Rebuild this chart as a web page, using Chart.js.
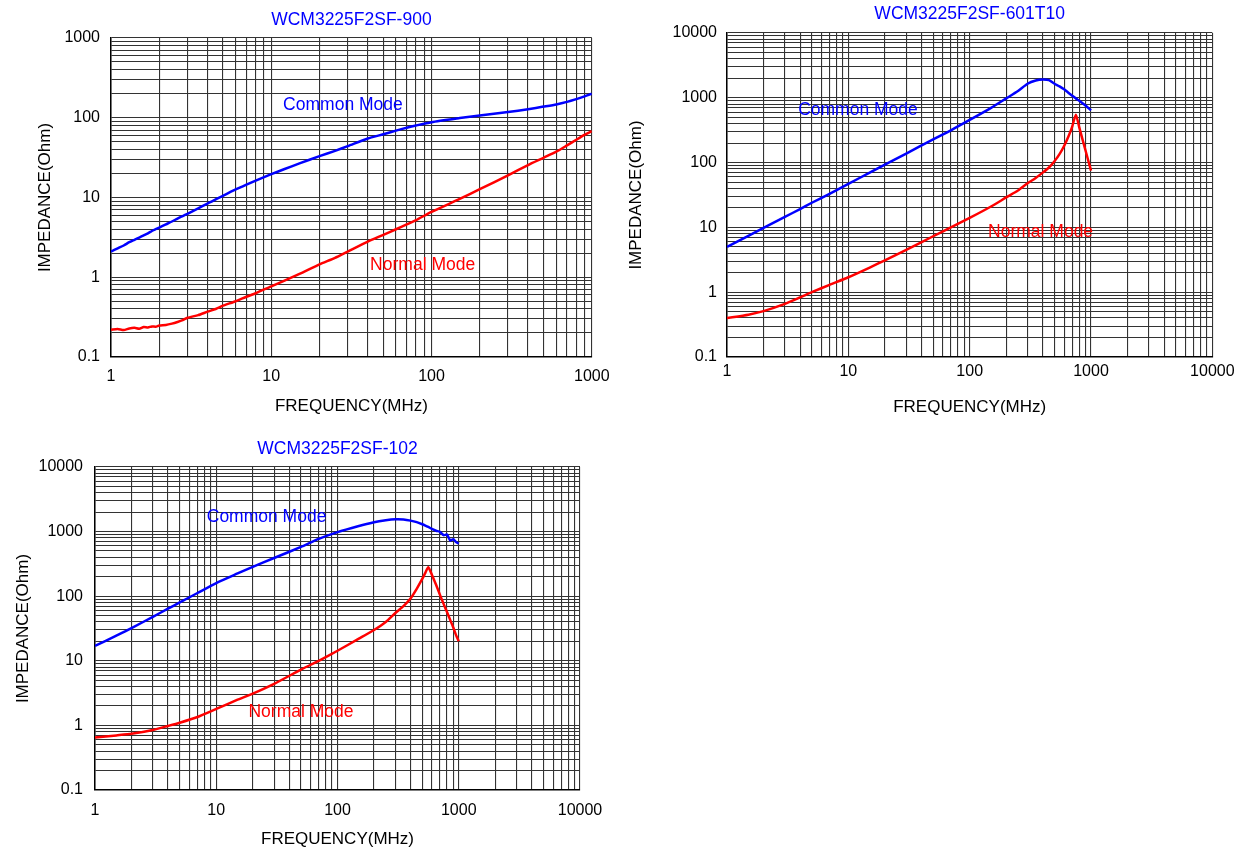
<!DOCTYPE html>
<html lang="en">

<head>
  <meta charset="UTF-8" />
  <title>WCM3225F2SF impedance curves</title>
  <script src="https://cdn.jsdelivr.net/npm/chart.js@4.4.1/dist/chart.umd.min.js"></script>
  <style>
    body { margin: 0; background: #fff; }
    .painel { position: absolute; width: 620px; height: 425px; }
  </style>
</head>

<body>
  <div class="painel" style="left:0;top:0"><canvas id="g900" width="620" height="425"></canvas></div>
  <div class="painel" style="left:620px;top:0"><canvas id="g601" width="620" height="425"></canvas></div>
  <div class="painel" style="left:0;top:425px"><canvas id="g102" width="620" height="425"></canvas></div>
</body>

</html>

<script>
  // WCM3225F2SF-900
  const freq900 = [1, 1.1, 1.2, 1.3, 1.4, 1.5, 1.6, 1.7, 1.8, 1.9, 2, 2.2, 2.4, 2.6, 2.8, 3, 3.5, 4, 4.5, 5, 6, 7, 8, 10, 12, 15, 20, 25, 30, 40, 50, 60, 70, 80, 100, 150, 200, 300, 400, 500, 600, 700, 800, 900, 1000];
  const common900 = [2.1, 2.3, 2.5, 2.75, 2.95, 3.15, 3.35, 3.55, 3.8, 4.0, 4.2, 4.6, 5.0, 5.45, 5.85, 6.25, 7.3, 8.4, 9.5, 10.5, 12.6, 14.5, 16.3, 19.6, 22.6, 26.8, 33, 38.5, 44, 55, 62, 69, 75, 80, 88, 99, 107, 118, 128, 138, 147, 158, 171, 185, 200];
  const normal900 = [0.22, 0.225, 0.218, 0.228, 0.232, 0.226, 0.238, 0.235, 0.242, 0.24, 0.248, 0.252, 0.262, 0.275, 0.29, 0.31, 0.335, 0.37, 0.4, 0.44, 0.5, 0.57, 0.63, 0.77, 0.9, 1.1, 1.45, 1.75, 2.1, 2.8, 3.4, 4.0, 4.6, 5.2, 6.6, 9.6, 12.7, 19, 25.5, 31.5, 37.5, 45, 53, 61, 68];
  const xLabels900 = [1, 10, 100, 1000];
  const yLabels900 = [0.1, 1, 10, 100, 1000];

  // WCM3225F2SF-601T10
  const freq601 = [1, 1.5, 2, 3, 4, 5, 7, 10, 15, 20, 30, 50, 70, 100, 150, 200, 250, 300, 350, 400, 450, 500, 550, 600, 650, 700, 750, 800, 900, 1000];
  const common601 = [5.0, 7.4, 9.8, 14.5, 19.2, 24, 33, 47, 70, 93, 138, 228, 315, 455, 700, 980, 1270, 1650, 1850, 1920, 1870, 1650, 1500, 1350, 1200, 1080, 980, 900, 760, 640];
  const normal601 = [0.4, 0.45, 0.51, 0.66, 0.83, 1.0, 1.3, 1.7, 2.4, 3.1, 4.5, 7.3, 10, 14, 21, 29, 37, 48, 58, 70, 84, 105, 135, 180, 250, 360, 550, 350, 155, 75];
  const xLabels601 = [1, 10, 100, 1000, 10000];
  const yLabels601 = [0.1, 1, 10, 100, 1000, 10000];

  // WCM3225F2SF-102
  const freq102 = [1, 1.5, 2, 3, 4, 5, 7, 10, 15, 20, 30, 50, 70, 100, 150, 200, 250, 300, 350, 400, 450, 500, 530, 560, 600, 650, 700, 750, 800, 850, 900, 950, 1000];
  const common102 = [17, 24.5, 32, 48, 64, 80, 112, 160, 225, 285, 390, 580, 770, 980, 1220, 1400, 1500, 1550, 1540, 1480, 1400, 1300, 1240, 1180, 1100, 1030, 990, 880, 900, 730, 760, 690, 650];
  const normal102 = [0.65, 0.7, 0.74, 0.85, 0.98, 1.1, 1.35, 1.8, 2.5, 3.1, 4.4, 7.3, 10, 14.3, 22, 30, 40, 55, 70, 92, 130, 185, 230, 280, 215, 150, 105, 76, 57, 43, 33, 25, 20];
  const xLabels102 = [1, 10, 100, 1000, 10000];
  const yLabels102 = [0.1, 1, 10, 100, 1000, 10000];

  const FONTE = '"Liberation Sans", Arial, sans-serif';

  // grade 1..9 por decada
  function gradeLog(min, max) {
    const t = [];
    for (let d = min; d < max * 0.99; d *= 10) {
      for (let m = 1; m < 10; m++) t.push(+(d * m).toPrecision(3));
    }
    t.push(max);
    return t;
  }

  function pontos(xs, ys) {
    return xs.map((x, i) => ({ x: x, y: ys[i] }));
  }

  // textos "Common Mode" / "Normal Mode" presos aos eixos
  const rotulosModo = {
    id: 'rotulosModo',
    afterDatasetsDraw(chart, args, opts) {
      const { ctx, scales } = chart;
      opts.itens.forEach(it => {
        ctx.save();
        ctx.font = '17.5px ' + FONTE;
        ctx.fillStyle = it.cor;
        ctx.textAlign = 'center';
        ctx.textBaseline = 'middle';
        ctx.fillText(it.texto, scales.x.getPixelForValue(it.x), scales.y.getPixelForValue(it.y));
        ctx.restore();
      });
    }
  };

  function criarGrafico(id, c) {
    const eixo = (labels) => ({
      type: 'logarithmic',
      min: labels[0],
      max: labels[labels.length - 1],
      afterBuildTicks: (ax) => {
        ax.ticks = gradeLog(labels[0], labels[labels.length - 1]).map(v => ({ value: v }));
      },
      grid: { color: '#333', lineWidth: 1.1, drawTicks: false },
      border: { color: '#000', width: 1.5 },
      ticks: {
        autoSkip: false,
        maxRotation: 0,
        color: '#000',
        font: { family: FONTE, size: 16 },
        callback: (v) => labels.includes(v) ? String(v) : ''
      }
    });

    const x = eixo(c.xLabels);
    x.ticks.padding = c.xTickPad;
    x.title = { display: true, text: 'FREQUENCY(MHz)', color: '#000', font: { family: FONTE, size: 17 }, padding: 0 };
    x.afterFit = (ax) => { ax.height = c.xHeight; };

    const y = eixo(c.yLabels);
    y.ticks.padding = c.yTickPad;
    y.title = { display: true, text: 'IMPEDANCE(Ohm)', color: '#000', font: { family: FONTE, size: 17 }, padding: { top: c.yTitlePad, bottom: 0 } };
    y.afterFit = (ax) => { ax.width = c.yWidth; };

    new Chart(document.getElementById(id), {
      type: 'line',
      data: {
        datasets: [
          { label: 'Common Mode', data: pontos(c.freq, c.common), borderColor: '#0000ff', borderWidth: 2.5, pointRadius: 0, tension: 0.2 },
          { label: 'Normal Mode', data: pontos(c.freq, c.normal), borderColor: '#ff0000', borderWidth: 2.5, pointRadius: 0, tension: 0.2 }
        ]
      },
      options: {
        responsive: false,
        animation: false,
        layout: { padding: { left: 0, right: c.padRight, top: 0, bottom: c.padBottom } },
        plugins: {
          legend: { display: false },
          tooltip: { enabled: false },
          title: {
            display: true,
            fullSize: false,
            text: c.titulo,
            color: '#0000ff',
            font: { family: FONTE, size: 17.5, weight: 'normal' },
            padding: { top: c.titleTop, bottom: c.titleBottom }
          },
          rotulosModo: { itens: c.rotulos }
        },
        scales: { x: x, y: y }
      },
      plugins: [rotulosModo]
    });
  }

  criarGrafico('g900', {
    titulo: 'WCM3225F2SF-900',
    freq: freq900, common: common900, normal: normal900,
    xLabels: xLabels900, yLabels: yLabels900,
    titleTop: 9.2, titleBottom: 7.8,
    yWidth: 111, padRight: 28, padBottom: 8.8, xHeight: 59.2,
    xTickPad: 10.4, yTickPad: 11, yTitlePad: 35.3,
    rotulos: [
      { texto: 'Common Mode', cor: '#0000ff', x: 28, y: 145 },
      { texto: 'Normal Mode', cor: '#ff0000', x: 88, y: 1.43 }
    ]
  });

  criarGrafico('g601', {
    titulo: 'WCM3225F2SF-601T10',
    freq: freq601, common: common601, normal: normal601,
    xLabels: xLabels601, yLabels: yLabels601,
    titleTop: 3.5, titleBottom: 8.5,
    yWidth: 107, padRight: 24, padBottom: 7.8, xHeight: 60.2,
    xTickPad: 5.4, yTickPad: 10, yTitlePad: 6.5,
    rotulos: [
      { texto: 'Common Mode', cor: '#0000ff', x: 12, y: 650 },
      { texto: 'Normal Mode', cor: '#ff0000', x: 384, y: 8.5 }
    ]
  });

  criarGrafico('g102', {
    titulo: 'WCM3225F2SF-102',
    freq: freq102, common: common102, normal: normal102,
    xLabels: xLabels102, yLabels: yLabels102,
    titleTop: 13.5, titleBottom: 7.5,
    yWidth: 95, padRight: 40, padBottom: 0, xHeight: 60,
    xTickPad: 11.4, yTickPad: 12, yTitlePad: 13,
    rotulos: [
      { texto: 'Common Mode', cor: '#0000ff', x: 26, y: 1650 },
      { texto: 'Normal Mode', cor: '#ff0000', x: 50, y: 1.6 }
    ]
  });
</script>
